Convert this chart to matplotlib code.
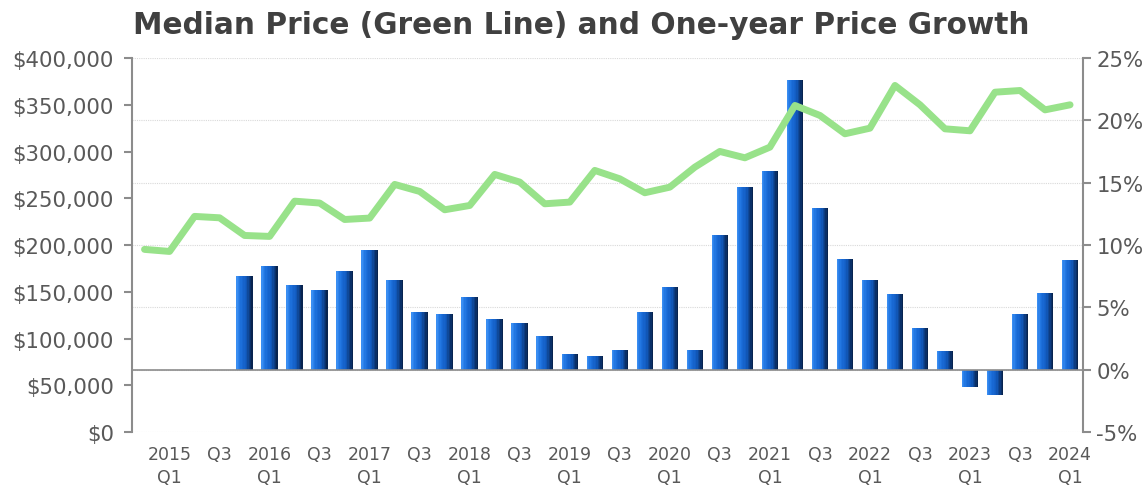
import matplotlib.pyplot as plt
import matplotlib.colors as mcolors
import numpy as np

# quarters 2014 Q4 .. 2024 Q1
quarters = ["2014 Q4"] + [f"{y} Q{q}" for y in range(2015, 2024) for q in (1, 2, 3, 4)] + ["2024 Q1"]

median_price = [195400, 193200, 230700, 229200, 210300, 209300, 247000, 245000,
                227400, 228900, 264900, 257400, 237800, 242400, 275600, 267400,
                244200, 246000, 279900, 270900, 256000, 262000, 283400, 300200,
                293400, 304800, 349400, 338700, 319100, 325100, 370800, 350100,
                324400, 322300, 363600, 365400, 344700, 350100]

# one-year growth (%), no value before 2015 Q4
growth = [np.nan, np.nan, np.nan, np.nan,
          7.5, 8.35, 6.83, 6.42, 7.92, 9.58, 7.23, 4.66, 4.47, 5.86, 4.04, 3.72,
          2.70, 1.28, 1.10, 1.61, 4.66, 6.61, 1.61, 10.84, 14.69, 15.95, 23.23, 12.98,
          8.89, 7.17, 6.10, 3.37, 1.53, -1.42, -2.03, 4.44, 6.16, 8.81]

tick_labels = []
for q in quarters:
    yr, qq = q.split()
    if qq == "Q1":
        tick_labels.append(f"{yr}\n{qq}")
    elif qq == "Q3":
        tick_labels.append(qq)
    else:
        tick_labels.append("")

TXT = "#595959"
AX = "#8c8c8c"
plt.rcParams["font.family"] = ["DejaVu Sans"]

fig = plt.figure(figsize=(11.48, 4.89), dpi=100)
ax1 = fig.add_axes([0.115, 0.1145, 0.828, 0.7645])
ax2 = ax1.twinx()
ax1.set_zorder(ax2.get_zorder() + 1)
ax1.patch.set_visible(False)

x = np.arange(len(quarters))
g = np.array(growth)

# bars with a left-to-right shading
w = 0.66
n = 12
cmap = mcolors.LinearSegmentedColormap.from_list(
    "bar", ["#3a8ef2", "#1f74e0", "#1766d0", "#125bbf", "#0d3f86", "#08244f"])
for k in range(n):
    off = -w / 2 + (k + 0.5) * w / n
    ax2.bar(x + off, g, width=w / n * 1.02, color=cmap(k / (n - 1)),
            linewidth=0, zorder=2)

ax2.set_ylim(-5, 25)
ax2.set_yticks(np.arange(-5, 26, 5))
ax2.set_yticklabels([f"{v}%" for v in range(-5, 26, 5)])
ax2.grid(axis="y", color="#d9d9d9", linestyle=(0, (1, 1)), linewidth=0.8, zorder=0)

ax1.plot(x, median_price, color="#98e28a", linewidth=5, solid_capstyle="round",
         solid_joinstyle="round", zorder=3)
ax1.set_ylim(0, 400000)
ax1.set_yticks(np.arange(0, 400001, 50000))
ax1.set_yticklabels([f"${v:,}" for v in range(0, 400001, 50000)])

ax1.set_xlim(-0.5, len(quarters) - 0.5)
ax1.set_xticks(x)
ax1.set_xticklabels(tick_labels, linespacing=1.4)
ax1.set_xticks(np.arange(-0.5, len(quarters), 1), minor=True)
ax1.tick_params(axis="x", which="both", length=0, labelsize=12.5, labelcolor=TXT, pad=9)
ax2.tick_params(axis="x", which="major", length=0, labelbottom=False)
ax2.tick_params(axis="x", which="minor", length=6, color=AX, width=1, direction="out")

for a in (ax1, ax2):
    a.spines["top"].set_visible(False)
    a.set_axisbelow(True)
ax1.spines["bottom"].set_visible(False)
ax1.spines["right"].set_visible(False)
ax2.spines["left"].set_visible(False)
ax1.spines["left"].set_color(AX)
ax1.spines["left"].set_linewidth(1.5)
ax2.spines["right"].set_color(AX)
ax2.spines["right"].set_linewidth(1.5)
ax2.spines["bottom"].set_position(("data", 0))
ax2.spines["bottom"].set_color(AX)
ax2.spines["bottom"].set_linewidth(1.2)

ax1.tick_params(axis="y", length=6, color=AX, width=1.5, labelsize=15.3, labelcolor=TXT, pad=7)
ax2.tick_params(axis="y", length=6, color=AX, width=1.5, labelsize=15.3, labelcolor=TXT, pad=4)

fig.suptitle("Median Price (Green Line) and One-year Price Growth", x=0.506, y=0.978,
             fontsize=21.3, fontweight="bold", color="#404040")

fig.savefig("out.png", dpi=100)
